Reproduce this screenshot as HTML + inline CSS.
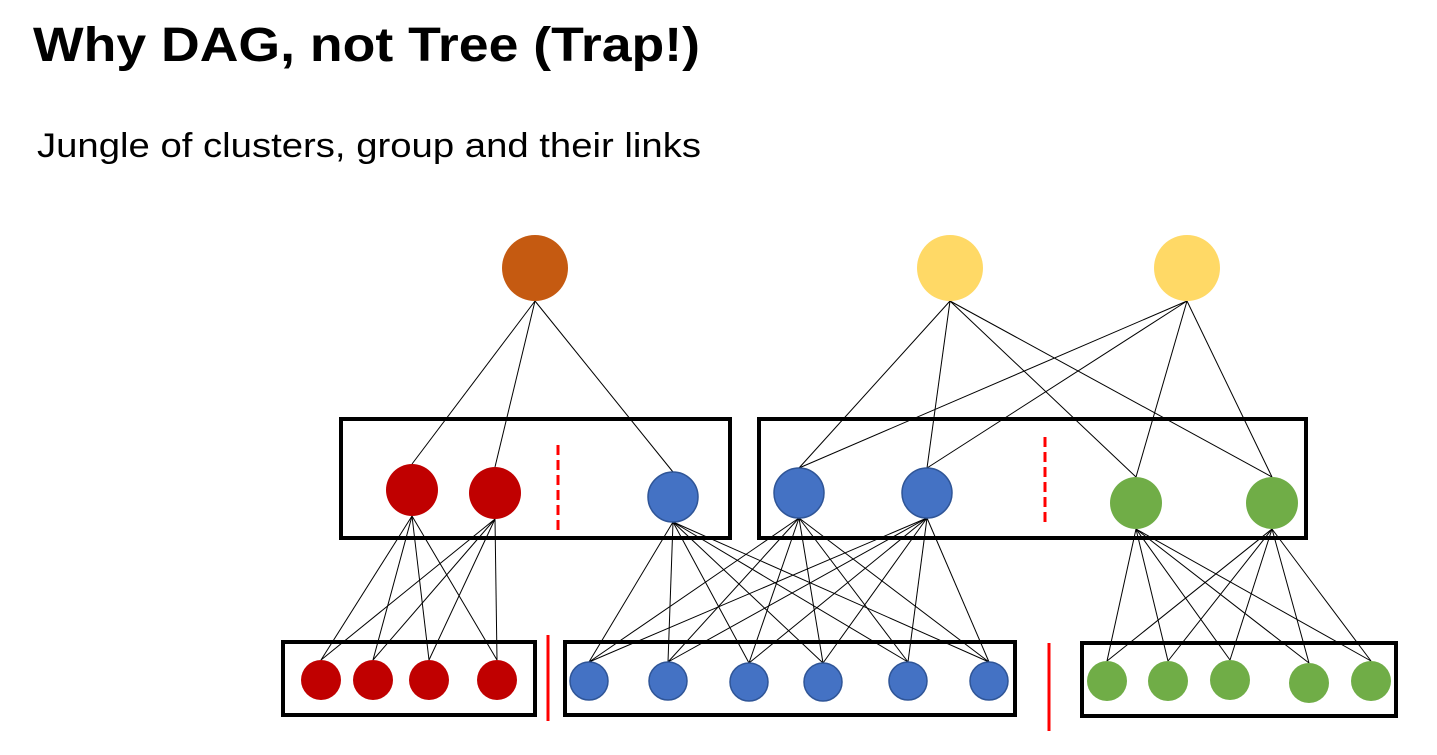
<!DOCTYPE html>
<html><head><meta charset="utf-8"><style>html,body{margin:0;padding:0;background:#fff;}svg{display:block}</style></head>
<body>
<svg width="1437" height="755" xmlns="http://www.w3.org/2000/svg" font-family="Liberation Sans, Arial, sans-serif">
<text x="33" y="61" font-size="48" font-weight="bold" textLength="667" lengthAdjust="spacingAndGlyphs">Why DAG, not Tree (Trap!)</text>
<text x="37" y="157" font-size="34" textLength="664" lengthAdjust="spacingAndGlyphs">Jungle of clusters, group and their links</text>
<g fill="none" stroke="#000" stroke-width="4">
<rect x="341" y="419" width="389" height="119"/>
<rect x="759" y="419" width="547" height="119"/>
<rect x="283" y="642" width="252" height="73"/>
<rect x="565" y="642" width="450" height="73"/>
<rect x="1082" y="643" width="314" height="73"/>
</g>
<g stroke="#f00" stroke-width="3">
<line x1="558" y1="445" x2="558" y2="531" stroke-dasharray="10,5"/>
<line x1="1045" y1="437" x2="1045" y2="524" stroke-dasharray="10,5"/>
<line x1="548" y1="635" x2="548" y2="721"/>
<line x1="1049" y1="643" x2="1049" y2="731"/>
</g>
<g stroke="#000" stroke-width="1">
<line x1="535" y1="301" x2="412" y2="464"/><line x1="535" y1="301" x2="495" y2="467"/><line x1="535" y1="301" x2="673" y2="472"/>
<line x1="950" y1="301" x2="799" y2="468"/><line x1="950" y1="301" x2="927" y2="468"/><line x1="950" y1="301" x2="1136" y2="477"/><line x1="950" y1="301" x2="1272" y2="477"/>
<line x1="1187" y1="301" x2="799" y2="468"/><line x1="1187" y1="301" x2="927" y2="468"/><line x1="1187" y1="301" x2="1136" y2="477"/><line x1="1187" y1="301" x2="1272" y2="477"/>
<line x1="412" y1="516" x2="321" y2="660"/><line x1="412" y1="516" x2="373" y2="660"/><line x1="412" y1="516" x2="429" y2="660"/><line x1="412" y1="516" x2="497" y2="660"/>
<line x1="495" y1="519" x2="321" y2="660"/><line x1="495" y1="519" x2="373" y2="660"/><line x1="495" y1="519" x2="429" y2="660"/><line x1="495" y1="519" x2="497" y2="660"/>
<line x1="673" y1="522" x2="589" y2="662"/><line x1="673" y1="522" x2="668" y2="662"/><line x1="673" y1="522" x2="749" y2="663"/><line x1="673" y1="522" x2="823" y2="663"/><line x1="673" y1="522" x2="908" y2="662"/><line x1="673" y1="522" x2="989" y2="662"/>
<line x1="799" y1="518" x2="589" y2="662"/><line x1="799" y1="518" x2="668" y2="662"/><line x1="799" y1="518" x2="749" y2="663"/><line x1="799" y1="518" x2="823" y2="663"/><line x1="799" y1="518" x2="908" y2="662"/><line x1="799" y1="518" x2="989" y2="662"/>
<line x1="927" y1="518" x2="589" y2="662"/><line x1="927" y1="518" x2="668" y2="662"/><line x1="927" y1="518" x2="749" y2="663"/><line x1="927" y1="518" x2="823" y2="663"/><line x1="927" y1="518" x2="908" y2="662"/><line x1="927" y1="518" x2="989" y2="662"/>
<line x1="1136" y1="529" x2="1107" y2="661"/><line x1="1136" y1="529" x2="1168" y2="661"/><line x1="1136" y1="529" x2="1230" y2="660"/><line x1="1136" y1="529" x2="1309" y2="663"/><line x1="1136" y1="529" x2="1371" y2="661"/>
<line x1="1272" y1="529" x2="1107" y2="661"/><line x1="1272" y1="529" x2="1168" y2="661"/><line x1="1272" y1="529" x2="1230" y2="660"/><line x1="1272" y1="529" x2="1309" y2="663"/><line x1="1272" y1="529" x2="1371" y2="661"/>
</g>
<circle cx="535" cy="268" r="33" fill="#c55a11"/>
<circle cx="950" cy="268" r="33" fill="#ffd966"/>
<circle cx="1187" cy="268" r="33" fill="#ffd966"/>
<g fill="#c00000">
<circle cx="412" cy="490" r="26"/><circle cx="495" cy="493" r="26"/>
<circle cx="321" cy="680" r="20"/><circle cx="373" cy="680" r="20"/><circle cx="429" cy="680" r="20"/><circle cx="497" cy="680" r="20"/>
</g>
<g fill="#4472c4" stroke="#2f5597" stroke-width="1.5">
<circle cx="673" cy="497" r="25"/><circle cx="799" cy="493" r="25"/><circle cx="927" cy="493" r="25"/>
<circle cx="589" cy="681" r="19"/><circle cx="668" cy="681" r="19"/><circle cx="749" cy="682" r="19"/><circle cx="823" cy="682" r="19"/><circle cx="908" cy="681" r="19"/><circle cx="989" cy="681" r="19"/>
</g>
<g fill="#70ad47">
<circle cx="1136" cy="503" r="26"/><circle cx="1272" cy="503" r="26"/>
<circle cx="1107" cy="681" r="20"/><circle cx="1168" cy="681" r="20"/><circle cx="1230" cy="680" r="20"/><circle cx="1309" cy="683" r="20"/><circle cx="1371" cy="681" r="20"/>
</g>
</svg>
</body></html>
